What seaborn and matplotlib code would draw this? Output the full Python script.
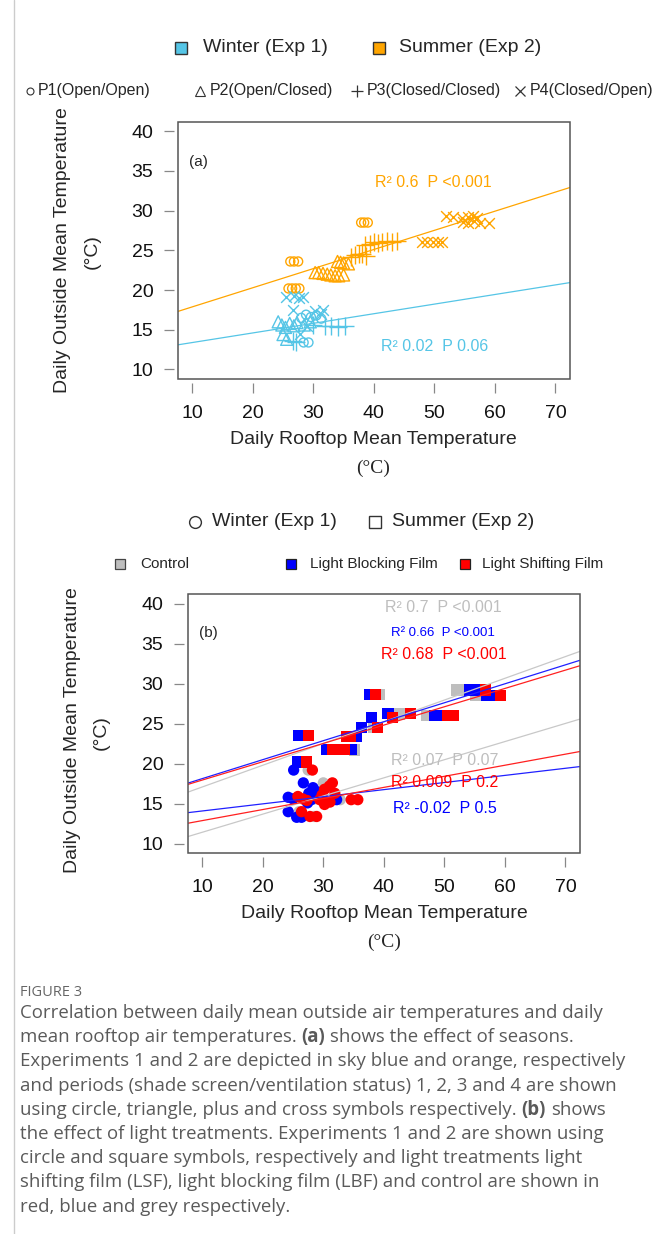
import matplotlib
matplotlib.use("Agg")
import matplotlib.pyplot as plt
import pandas as pd
import seaborn as sns
from matplotlib.patches import Rectangle

sns.set_theme(style="ticks")
plt.rcParams["font.family"] = ["Liberation Sans", "DejaVu Sans"]

# ---------------- panel (a): season x period ----------------
# summer (Exp 2)
s_p1_x = [37.9, 38.4, 39.0, 26.2, 26.8, 27.5, 25.9, 26.5, 27.1, 27.7]
s_p1_y = [28.5, 28.5, 28.5, 23.6, 23.6, 23.6, 20.2, 20.2, 20.2, 20.2]
s_p2_x = [30.3, 30.9, 31.6, 32.3, 32.9, 33.6, 34.2, 35.0, 34.0, 34.5, 35.0, 35.8]
s_p2_y = [22.2, 22.2, 22.1, 22.0, 21.9, 21.8, 21.8, 21.9, 23.6, 23.5, 23.4, 23.3]
s_p3_x = [36.3, 36.9, 37.5, 38.1, 38.7, 38.6, 39.3, 40.0, 40.7, 41.4, 42.2, 43.0, 43.8]
s_p3_y = [24.2, 24.4, 24.6, 24.5, 24.3, 25.7, 25.8, 26.0, 25.9, 26.1, 26.2, 26.0, 26.2]
s_p4_x = [52.0, 53.0, 54.5, 55.5, 56.3, 57.0, 54.8, 55.6, 56.6, 57.6, 59.0,
          48.0, 48.8, 49.7, 50.6, 51.3]
s_p4_y = [29.3, 29.2, 29.1, 29.2, 29.3, 29.1, 28.6, 28.5, 28.7, 28.5, 28.5,
          26.1, 26.0, 26.1, 26.0, 26.1]
# winter (Exp 1)
w_p1_x = [28.0, 28.8, 29.6, 30.5, 31.3, 28.4, 29.2]
w_p1_y = [16.5, 16.9, 16.6, 16.8, 16.4, 13.4, 13.4]
w_p2_x = [24.2, 24.8, 25.4, 26.1, 26.8, 27.3, 25.0, 25.6, 28.5, 29.5]
w_p2_y = [16.0, 15.6, 15.3, 15.8, 15.5, 15.9, 14.4, 13.8, 15.6, 16.0]
w_p3_x = [32.0, 33.0, 34.0, 35.2, 26.6, 27.2, 30.0]
w_p3_y = [15.5, 15.5, 15.4, 15.5, 13.6, 13.5, 15.6]
w_p4_x = [25.5, 26.8, 27.6, 28.3, 26.7, 30.3, 31.2, 31.6, 27.8, 29.0]
w_p4_y = [19.1, 19.2, 19.0, 19.1, 17.5, 17.4, 17.0, 17.5, 14.5, 15.5]

a_fit_season = ["Winter", "Summer"]
a_fit_intercept = [12.18, 15.47]
a_fit_slope = [0.121, 0.241]
a_stats = ["R² 0.02  P 0.06", "R² 0.6  P <0.001"]

# ---------------- panel (b): treatment ----------------
treatments = ["Control", "Light Blocking Film", "Light Shifting Film"]
# summer squares
ctl_s_x = [26.8, 32.3, 35.2, 38.3, 39.3, 42.6, 47.1, 52.0, 52.6, 55.1]
ctl_s_y = [23.5, 21.8, 21.7, 24.5, 28.6, 26.2, 26.0, 29.2, 29.2, 28.5]
lbf_s_x = [25.7, 26.0, 30.5, 34.6, 35.5, 36.3, 38.0, 37.7, 40.7, 48.4, 49.2,
           54.2, 55.3, 56.9, 58.0]
lbf_s_y = [20.2, 23.5, 21.8, 21.8, 23.4, 24.5, 25.8, 28.6, 26.3, 26.0, 26.0,
           29.2, 29.2, 28.5, 28.5]
lsf_s_x = [27.2, 27.5, 31.6, 33.5, 33.8, 34.5, 38.9, 38.6, 41.4, 44.4, 50.6,
           51.4, 56.8, 59.3]
lsf_s_y = [20.2, 23.5, 21.8, 21.8, 23.4, 23.4, 24.5, 28.6, 25.8, 26.3, 26.0,
           26.0, 29.2, 28.5]
# winter circles
ctl_w_x = [27.5, 30.0, 32.8, 28.5, 26.0, 28.5]
ctl_w_y = [19.2, 17.6, 15.5, 15.6, 14.0, 13.4]
lbf_w_x = [25.1, 26.7, 28.3, 28.9, 24.2, 25.0, 27.4, 24.2, 25.6, 26.4, 28.0,
           29.6, 32.2, 27.6]
lbf_w_y = [19.2, 17.6, 17.0, 16.5, 15.8, 15.6, 15.1, 14.0, 13.3, 13.3, 15.5,
           15.8, 15.5, 16.3]
lsf_w_x = [28.2, 25.8, 26.6, 27.3, 26.4, 27.8, 28.9, 29.4, 30.2, 31.1, 30.2,
           31.0, 31.5, 31.9, 34.6, 35.7, 29.8]
lsf_w_y = [19.2, 15.9, 15.6, 15.4, 14.0, 13.4, 13.4, 15.5, 14.9, 15.2, 16.8,
           17.2, 17.6, 16.3, 15.5, 15.5, 16.1]

b_fit_season = ["Summer"] * 3 + ["Winter"] * 3
b_fit_treat = treatments * 2
b_fit_intercept = [14.37, 15.76, 15.66, 9.16, 13.2, 11.5]
b_fit_slope = [0.2716, 0.237, 0.229, 0.2267, 0.0889, 0.1384]
b_stats = ["R² 0.7  P <0.001", "R² 0.66  P <0.001", "R² 0.68  P <0.001",
           "R² 0.07  P 0.07", "R² -0.02  P 0.5", "R² 0.009  P 0.2"]

x_ticks = [10, 20, 30, 40, 50, 60, 70]
y_ticks = [10, 15, 20, 25, 30, 35, 40]

season_col = {"Winter": "#55C5E6", "Summer": "#FFA500"}
treat_col = {"Control": "#BEBEBE", "Light Blocking Film": "#0000FF",
             "Light Shifting Film": "#FF0000"}
treat_line = {"Control": "#C8C8C8", "Light Blocking Film": "#2020FF",
              "Light Shifting Film": "#FF2020"}

W, H = 654, 1234
fig = plt.figure(figsize=(W / 100, H / 100), dpi=100)


def px_axes(l, t, r, b, **kw):
    return fig.add_axes([l / W, 1 - b / H, (r - l) / W, (b - t) / H], **kw)


ax_a = px_axes(177.7, 121.7, 570, 379)
ax_b = px_axes(187.7, 594, 580, 853.3)
ov = fig.add_axes([0, 0, 1, 1], zorder=5)
ov.set_xlim(0, W)
ov.set_ylim(H, 0)
ov.axis("off")

XLIM = (7.6, 72.4)
YLIM = (8.8, 41.2)


def style_axes(ax):
    ax.set_xlim(*XLIM)
    ax.set_ylim(*YLIM)
    ax.set_xticks(x_ticks)
    ax.set_yticks(y_ticks)
    for s in ["left", "bottom"]:
        ax.spines[s].set_position(("outward", 3))
    for s in ax.spines.values():
        s.set_visible(False)
    ax.add_patch(Rectangle((0, 0), 1, 1, transform=ax.transAxes, fill=False,
                           ec="#555555", lw=1.1, clip_on=False, zorder=10))
    ax.tick_params(axis="both", length=7.5, width=0.9, color="#888888",
                   labelsize=14, labelcolor="#111111")
    ax.tick_params(axis="x", pad=8)
    ax.tick_params(axis="y", pad=7)
    ax.set_xlabel("")
    ax.set_ylabel("")


def fit_line(ax, b0, b1, color):
    df = pd.DataFrame({"x": list(XLIM)})
    df["y"] = b0 + b1 * df["x"]
    sns.lineplot(data=df, x="x", y="y", color=color, lw=0.9, ax=ax)


# ---- panel (a) ----
groups_a = [
    ("Summer", "o", s_p1_x, s_p1_y), ("Summer", "^", s_p2_x, s_p2_y),
    ("Summer", "+", s_p3_x, s_p3_y), ("Summer", "x", s_p4_x, s_p4_y),
    ("Winter", "o", w_p1_x, w_p1_y), ("Winter", "^", w_p2_x, w_p2_y),
    ("Winter", "+", w_p3_x, w_p3_y), ("Winter", "x", w_p4_x, w_p4_y),
]
sizes = {"o": 42, "^": 75, "+": 150, "x": 60}
for season, m, xs, ys in groups_a:
    c = season_col[season]
    if m in ("o", "^"):
        sns.scatterplot(x=xs, y=ys, marker=m, s=sizes[m], color=c,
                        facecolors="none", edgecolor=c, linewidth=1.0, ax=ax_a)
    else:
        sns.scatterplot(x=xs, y=ys, marker=m, s=sizes[m], color=c,
                        linewidth=1.0, ax=ax_a)

for season, b0, b1 in zip(a_fit_season, a_fit_intercept, a_fit_slope):
    fit_line(ax_a, b0, b1, season_col[season])

style_axes(ax_a)
ax_a.text(11, 36.1, "(a)", fontsize=11, ha="center", va="center")
ax_a.text(49.9, 33.6, a_stats[1], color=season_col["Summer"], fontsize=11.5,
          ha="center", va="center")
ax_a.text(50.0, 12.9, a_stats[0], color=season_col["Winter"], fontsize=11.5,
          ha="center", va="center")

# ---- panel (b) ----
rows = []
for treat, season, xs, ys in [
        ("Control", "Summer", ctl_s_x, ctl_s_y), ("Control", "Winter", ctl_w_x, ctl_w_y),
        ("Light Blocking Film", "Summer", lbf_s_x, lbf_s_y),
        ("Light Blocking Film", "Winter", lbf_w_x, lbf_w_y),
        ("Light Shifting Film", "Summer", lsf_s_x, lsf_s_y),
        ("Light Shifting Film", "Winter", lsf_w_x, lsf_w_y)]:
    for x, y in zip(xs, ys):
        rows.append({"rooftop": x, "outside": y, "treatment": treat, "season": season})
df_b = pd.DataFrame(rows)
sns.scatterplot(data=df_b, x="rooftop", y="outside", hue="treatment",
                style="season", markers={"Summer": "s", "Winter": "o"},
                palette=treat_col, s=66, linewidth=0, legend=False, ax=ax_b)

for treat, b0, b1 in zip(b_fit_treat, b_fit_intercept, b_fit_slope):
    fit_line(ax_b, b0, b1, treat_line[treat])

style_axes(ax_b)
ax_b.text(11, 36.3, "(b)", fontsize=11, ha="center", va="center")
b_text_pos = [(49.9, 39.5, 11.5), (49.8, 36.3, 9.5), (49.9, 33.6, 11.5),
              (50.0, 20.4, 11.5), (50.0, 14.4, 11.5), (50.1, 17.6, 11.5)]
for label, treat, (tx, ty, fs) in zip(b_stats, b_fit_treat, b_text_pos):
    ax_b.text(tx, ty, label, color=treat_col[treat], fontsize=fs,
              ha="center", va="center")

# ---- axis titles ----
for (cx, cy), (ux, uy) in [((373, 440), (373, 468)), ((384, 913), (384, 942))]:
    ov.text(cx, cy, "Daily Rooftop Mean Temperature", fontsize=14,
            ha="center", va="center")
    ov.text(ux, uy, "(°C)", fontsize=14, ha="center", va="center",
            family=["Liberation Serif", "DejaVu Serif"])
for (cx, cy), (ux, uy) in [((63, 250), (92, 252)), ((73, 730), (101, 733))]:
    ov.text(cx, cy, "Daily Outside Mean Temperature", fontsize=14,
            ha="center", va="center", rotation=90)
    ov.text(ux, uy, "(°C)", fontsize=14, ha="center", va="center", rotation=90)


# ---- legends ----
def legend_entry(marker, mx, tx, y, label, fs, ms, fc, ec, mew=1.0):
    ov.plot([mx], [y], marker=marker, ms=ms, mfc=fc, mec=ec, mew=mew, ls="none")
    ov.text(tx, y, label, fontsize=fs, ha="left", va="center")


legend_entry("s", 181, 203, 48, "Winter (Exp 1)", 14, 8.5, season_col["Winter"], "#333333")
legend_entry("s", 379, 399, 48, "Summer (Exp 2)", 14, 8.5, season_col["Summer"], "#333333")
legend_entry("o", 30, 38, 91, "P1(Open/Open)", 11.5, 5, "none", "#333333", 0.8)
legend_entry("^", 200, 210, 91, "P2(Open/Closed)", 11.5, 7, "none", "#333333", 0.8)
legend_entry("+", 357, 367, 91, "P3(Closed/Closed)", 11.5, 9, "none", "#333333", 0.9)
legend_entry("x", 520, 530, 91, "P4(Closed/Open)", 11.5, 6.5, "none", "#333333", 0.9)

legend_entry("o", 195, 212, 522, "Winter (Exp 1)", 14, 8.5, "none", "#333333", 1.0)
legend_entry("s", 375, 392, 522, "Summer (Exp 2)", 14, 8.5, "none", "#333333", 1.0)
legend_entry("s", 120, 140, 564, "Control", 11, 7.5, treat_col["Control"], "#444444", 0.9)
legend_entry("s", 291, 310, 564, "Light Blocking Film", 11, 7.5, treat_col["Light Blocking Film"], "#222222", 0.9)
legend_entry("s", 465, 482, 564, "Light Shifting Film", 11, 7.5, treat_col["Light Shifting Film"], "#222222", 0.9)

# page border line
ov.plot([14, 14], [0, H], color="#cccccc", lw=1)

# ---- caption ----
cap_font = ["Open Sans", "DejaVu Sans"]
cap_col = "#5a5a5a"
cap_fs = 13.4
ov.text(20, 993, "FIGURE 3", fontsize=10.5, color="#666666", family=cap_font,
        ha="left", va="center")
caption = [
    [("Correlation between daily mean outside air temperatures and daily", False)],
    [("mean rooftop air temperatures.", False), ("(a)", True), ("shows the effect of seasons.", False)],
    [("Experiments 1 and 2 are depicted in sky blue and orange, respectively", False)],
    [("and periods (shade screen/ventilation status) 1, 2, 3 and 4 are shown", False)],
    [("using circle, triangle, plus and cross symbols respectively.", False), ("(b)", True), ("shows", False)],
    [("the effect of light treatments. Experiments 1 and 2 are shown using", False)],
    [("circle and square symbols, respectively and light treatments light", False)],
    [("shifting film (LSF), light blocking film (LBF) and control are shown in", False)],
    [("red, blue and grey respectively.", False)],
]
renderer = fig.canvas.get_renderer()


def text_w(s, bold=False):
    t = ov.text(0, 0, s, fontsize=cap_fs, family=cap_font,
                fontweight="bold" if bold else "normal")
    w = t.get_window_extent(renderer).width
    t.remove()
    return w


space_w = text_w("x x") - text_w("xx")
for i, parts in enumerate(caption):
    y = 1013 + 24.2 * i
    x = 20
    for j, (seg, bold) in enumerate(parts):
        if j > 0:
            x += space_w
        t = ov.text(x, y, seg, fontsize=cap_fs, family=cap_font, color=cap_col,
                    fontweight="bold" if bold else "normal", ha="left", va="center")
        x += t.get_window_extent(renderer).width

fig.savefig("out.png", dpi=100)
